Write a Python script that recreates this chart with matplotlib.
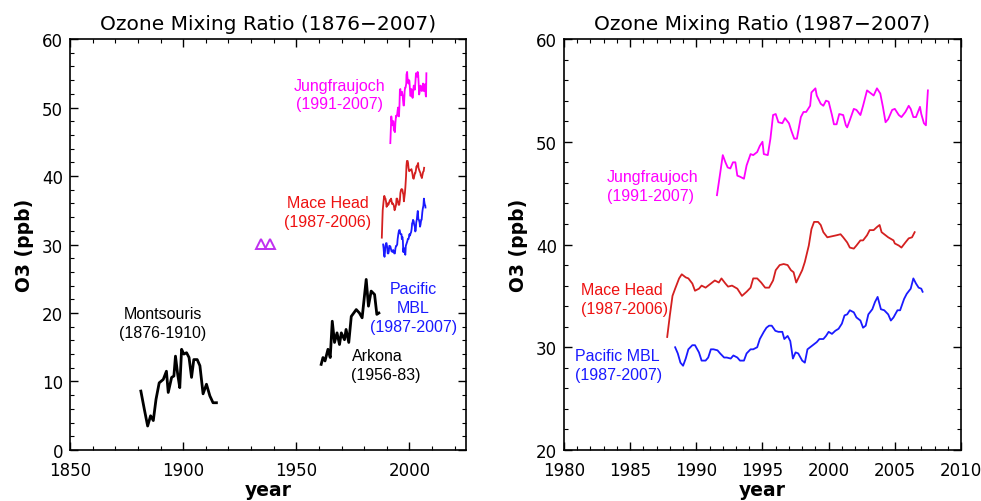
import matplotlib
matplotlib.use("Agg")
import matplotlib.pyplot as plt
from matplotlib.ticker import MultipleLocator

# Montsouris (black, left panel only)
mont_year = [1881.3, 1882.8, 1884.3, 1885.6, 1886.8, 1888.0, 1889.4, 1891.2, 1892.6, 1893.4,
             1894.9, 1895.9, 1896.6, 1897.6, 1898.5, 1899.3, 1900.3, 1901.5, 1902.6, 1903.7,
             1904.7, 1906.2, 1907.4, 1908.8, 1910.3, 1911.8, 1913.2, 1914.7]
mont_o3 = [8.6, 6.0, 3.5, 5.0, 4.3, 7.4, 9.8, 10.3, 11.5, 8.4,
           10.6, 10.8, 13.7, 11.0, 9.1, 14.7, 14.0, 14.2, 13.5, 10.6,
           13.2, 13.2, 12.3, 8.2, 9.6, 7.9, 6.9, 6.9]

# Arkona (black, left panel only)
ark_year = [1961.0, 1961.8, 1962.7, 1964.0, 1965.0, 1965.9, 1966.9, 1968.0, 1969.1, 1969.9,
            1971.3, 1972.0, 1973.2, 1974.3, 1975.4, 1976.5, 1977.9, 1979.1, 1980.9, 1981.9,
            1983.1, 1984.6, 1985.6, 1986.5]
ark_o3 = [12.5, 13.5, 13.0, 14.7, 13.5, 18.8, 15.7, 17.1, 15.4, 17.1,
          16.1, 17.6, 15.7, 19.5, 20.0, 20.5, 20.0, 19.3, 24.9, 21.0,
          23.2, 22.7, 19.8, 20.0]

# early measurements (open triangles)
tri_year = [1934.3, 1938.2]
tri_o3 = [30.1, 30.1]

# Jungfraujoch (magenta)
jf_year = [1991.56, 1991.81, 1992.0, 1992.2, 1992.37, 1992.57, 1992.77, 1992.95, 1993.1, 1993.3,
           1993.6, 1993.8, 1994.1, 1994.3, 1994.6, 1994.8, 1995.0, 1995.1, 1995.4, 1995.6,
           1995.8, 1996.0, 1996.2, 1996.5, 1996.7, 1997.0, 1997.2, 1997.4, 1997.6, 1997.9,
           1998.1, 1998.3, 1998.6, 1998.7, 1999.0, 1999.1, 1999.4, 1999.6, 1999.8, 2000.0,
           2000.25, 2000.4, 2000.6, 2000.8, 2001.1, 2001.3, 2001.4, 2001.6, 2001.9, 2002.1,
           2002.4, 2002.6, 2002.9, 2003.1, 2003.4, 2003.65, 2003.9, 2004.1, 2004.3, 2004.5,
           2004.8, 2005.0, 2005.3, 2005.5, 2005.8, 2006.05, 2006.2, 2006.4, 2006.6, 2006.9,
           2007.0, 2007.2, 2007.35, 2007.4, 2007.5]
jf_o3 = [44.8, 47.0, 48.7, 48.0, 47.5, 47.4, 48.0, 48.0, 46.7, 46.6,
         46.4, 47.7, 48.8, 48.7, 49.0, 49.6, 50.0, 48.8, 48.7, 50.3,
         52.6, 52.7, 51.9, 51.8, 52.3, 51.8, 51.0, 50.3, 50.3, 52.4,
         52.9, 52.9, 53.5, 54.8, 55.2, 54.5, 53.7, 53.5, 54.0, 53.9,
         52.6, 51.7, 51.7, 52.7, 52.6, 51.6, 51.4, 52.1, 53.2, 53.1,
         52.6, 53.5, 55.0, 54.8, 54.5, 55.2, 54.7, 53.4, 51.9, 52.2,
         53.1, 53.2, 52.6, 52.4, 52.9, 53.5, 53.2, 52.4, 52.4, 53.4,
         52.7, 51.8, 51.6, 52.9, 55.0]

# Mace Head (red)
mh_year = [1987.8, 1988.0, 1988.2, 1988.4, 1988.7, 1988.9, 1989.2, 1989.4, 1989.7, 1989.9,
           1990.2, 1990.4, 1990.7, 1990.9, 1991.2, 1991.4, 1991.7, 1991.9, 1992.2, 1992.4,
           1992.7, 1993.1, 1993.45, 1993.8, 1994.1, 1994.3, 1994.6, 1994.9, 1995.2, 1995.5,
           1995.8, 1996.0, 1996.3, 1996.6, 1996.9, 1997.15, 1997.35, 1997.55, 1997.7, 1998.0,
           1998.2, 1998.5, 1998.7, 1998.9, 1999.2, 1999.4, 1999.6, 1999.9, 2000.25, 2000.6,
           2000.9, 2001.1, 2001.4, 2001.6, 2001.9, 2002.1, 2002.4, 2002.6, 2002.9, 2003.1,
           2003.4, 2003.65, 2003.85, 2004.0, 2004.3, 2004.5, 2004.9, 2005.0, 2005.3, 2005.5,
           2005.8, 2006.05, 2006.3, 2006.5]
mh_o3 = [31.0, 33.1, 35.0, 35.7, 36.7, 37.1, 36.8, 36.7, 36.2, 35.5,
         35.7, 36.0, 35.8, 36.0, 36.3, 36.5, 36.3, 36.7, 36.2, 35.9,
         36.0, 35.7, 35.0, 35.4, 35.8, 36.7, 36.7, 36.3, 35.8, 35.8,
         36.5, 37.5, 38.0, 38.1, 38.0, 37.5, 37.3, 36.3, 36.7, 37.5,
         38.3, 39.9, 41.5, 42.2, 42.2, 41.9, 41.2, 40.7, 40.8, 40.9,
         41.0, 40.7, 40.2, 39.7, 39.6, 39.9, 40.4, 40.4, 40.9, 41.4,
         41.4, 41.7, 41.9, 41.2, 40.9, 40.7, 40.4, 40.1, 39.9, 39.7,
         40.2, 40.6, 40.7, 41.2]

# Pacific MBL (blue)
mbl_year = [1988.4, 1988.6, 1988.8, 1989.0, 1989.2, 1989.4, 1989.7, 1989.9, 1990.2, 1990.4,
            1990.7, 1990.9, 1991.1, 1991.3, 1991.6, 1991.8, 1992.1, 1992.3, 1992.6, 1992.8,
            1993.1, 1993.3, 1993.6, 1993.8, 1994.1, 1994.3, 1994.6, 1994.8, 1995.1, 1995.3,
            1995.5, 1995.7, 1995.97, 1996.2, 1996.5, 1996.65, 1996.9, 1997.1, 1997.3, 1997.5,
            1997.7, 1998.0, 1998.2, 1998.4, 1998.6, 1998.8, 1999.1, 1999.3, 1999.6, 1999.8,
            2000.0, 2000.25, 2000.5, 2000.75, 2001.0, 2001.2, 2001.4, 2001.6, 2001.9, 2002.1,
            2002.4, 2002.6, 2002.8, 2003.0, 2003.3, 2003.5, 2003.7, 2003.95, 2004.2, 2004.5,
            2004.7, 2004.9, 2005.2, 2005.4, 2005.7, 2005.9, 2006.2, 2006.4, 2006.6, 2006.8,
            2007.0, 2007.1]
mbl_o3 = [30.0, 29.4, 28.5, 28.2, 28.9, 29.8, 30.2, 30.2, 29.5, 28.7,
          28.7, 29.0, 29.8, 29.8, 29.7, 29.4, 29.0, 29.0, 28.9, 29.2,
          29.0, 28.7, 28.7, 29.4, 29.8, 29.8, 30.0, 30.8, 31.5, 31.9,
          32.1, 32.1, 31.6, 31.5, 31.5, 30.8, 31.1, 30.6, 28.9, 29.5,
          29.4, 28.7, 28.5, 29.8, 30.0, 30.2, 30.5, 30.8, 30.8, 31.1,
          31.5, 31.3, 31.6, 31.8, 32.3, 33.1, 33.2, 33.6, 33.4, 32.9,
          32.6, 31.9, 32.1, 33.2, 33.7, 34.4, 34.9, 33.7, 33.6, 33.2,
          32.6, 32.9, 33.6, 33.6, 34.7, 35.2, 35.7, 36.7, 36.2, 35.8,
          35.7, 35.4]

JF_COL = '#ff00ff'
MH_COL = '#d42020'
MBL_COL = '#1a1aff'
TRI_COL = '#c030f0'
LBL_FONT = 'Liberation Sans'
LBL_SIZE = 11.5

fig = plt.figure(figsize=(9.81, 5.02), dpi=100)
ax1 = fig.add_axes([0.0714, 0.1016, 0.4036, 0.8187])
ax2 = fig.add_axes([0.5749, 0.1016, 0.4047, 0.8187])


def style_axes(ax, title):
    ax.set_title(title, fontsize=14.5, pad=7)
    ax.set_ylabel('O3 (ppb)', fontsize=13.5, fontweight='bold', labelpad=6)
    ax.set_xlabel('year', fontsize=13.5, fontweight='bold', labelpad=1)
    ax.tick_params(which='both', direction='in', top=True, right=True, labelsize=12)
    ax.tick_params(axis='x', which='major', pad=8)
    ax.tick_params(axis='y', which='major', pad=5)
    ax.tick_params(which='major', length=6, width=1)
    ax.tick_params(which='minor', length=3, width=0.8)
    for s in ax.spines.values():
        s.set_linewidth(1.2)


def label(ax, x, y, txt, color='black', ha='center'):
    ax.text(x, y, txt, family=LBL_FONT, fontsize=LBL_SIZE, color=color,
            ha=ha, va='center', linespacing=1.32)


# left panel: full record
ax1.plot(mont_year, mont_o3, color='black', lw=2)
ax1.plot(ark_year, ark_o3, color='black', lw=2)
ax1.plot(tri_year, tri_o3, ls='none', marker='^', ms=6.5, mfc='none', mec=TRI_COL, mew=1.4)
ax1.plot(jf_year, jf_o3, color=JF_COL, lw=1.3)
ax1.plot(mh_year, mh_o3, color=MH_COL, lw=1.3)
ax1.plot(mbl_year, mbl_o3, color=MBL_COL, lw=1.3)
ax1.set_xlim(1850, 2025)
ax1.set_ylim(0, 60)
ax1.xaxis.set_major_locator(MultipleLocator(50))
ax1.xaxis.set_minor_locator(MultipleLocator(10))
ax1.yaxis.set_major_locator(MultipleLocator(10))
ax1.yaxis.set_minor_locator(MultipleLocator(2))
style_axes(ax1, 'Ozone Mixing Ratio (1876\u22122007)')

label(ax1, 1891, 18.5, 'Montsouris\n(1876-1910)')
label(ax1, 1974.4, 12.4, 'Arkona\n(1956-83)', ha='left')
label(ax1, 2001.7, 20.8, 'Pacific\nMBL\n(1987-2007)', color=MBL_COL)
label(ax1, 1964, 34.8, 'Mace Head\n(1987-2006)', color='#ee1111')
label(ax1, 1969.1, 51.9, 'Jungfraujoch\n(1991-2007)', color=JF_COL)

# right panel: recent period
ax2.plot(jf_year, jf_o3, color=JF_COL, lw=1.3)
ax2.plot(mh_year, mh_o3, color=MH_COL, lw=1.3)
ax2.plot(mbl_year, mbl_o3, color=MBL_COL, lw=1.3)
ax2.set_xlim(1980, 2010)
ax2.set_ylim(20, 60)
ax2.xaxis.set_major_locator(MultipleLocator(5))
ax2.xaxis.set_minor_locator(MultipleLocator(1))
ax2.yaxis.set_major_locator(MultipleLocator(10))
ax2.yaxis.set_minor_locator(MultipleLocator(2))
style_axes(ax2, 'Ozone Mixing Ratio (1987\u22122007)')

label(ax2, 1983.25, 45.7, 'Jungfraujoch\n(1991-2007)', color=JF_COL, ha='left')
label(ax2, 1981.3, 34.7, 'Mace Head\n(1987-2006)', color='#ee1111', ha='left')
label(ax2, 1980.8, 28.3, 'Pacific MBL\n(1987-2007)', color=MBL_COL, ha='left')

fig.savefig('out.png', dpi=100)
